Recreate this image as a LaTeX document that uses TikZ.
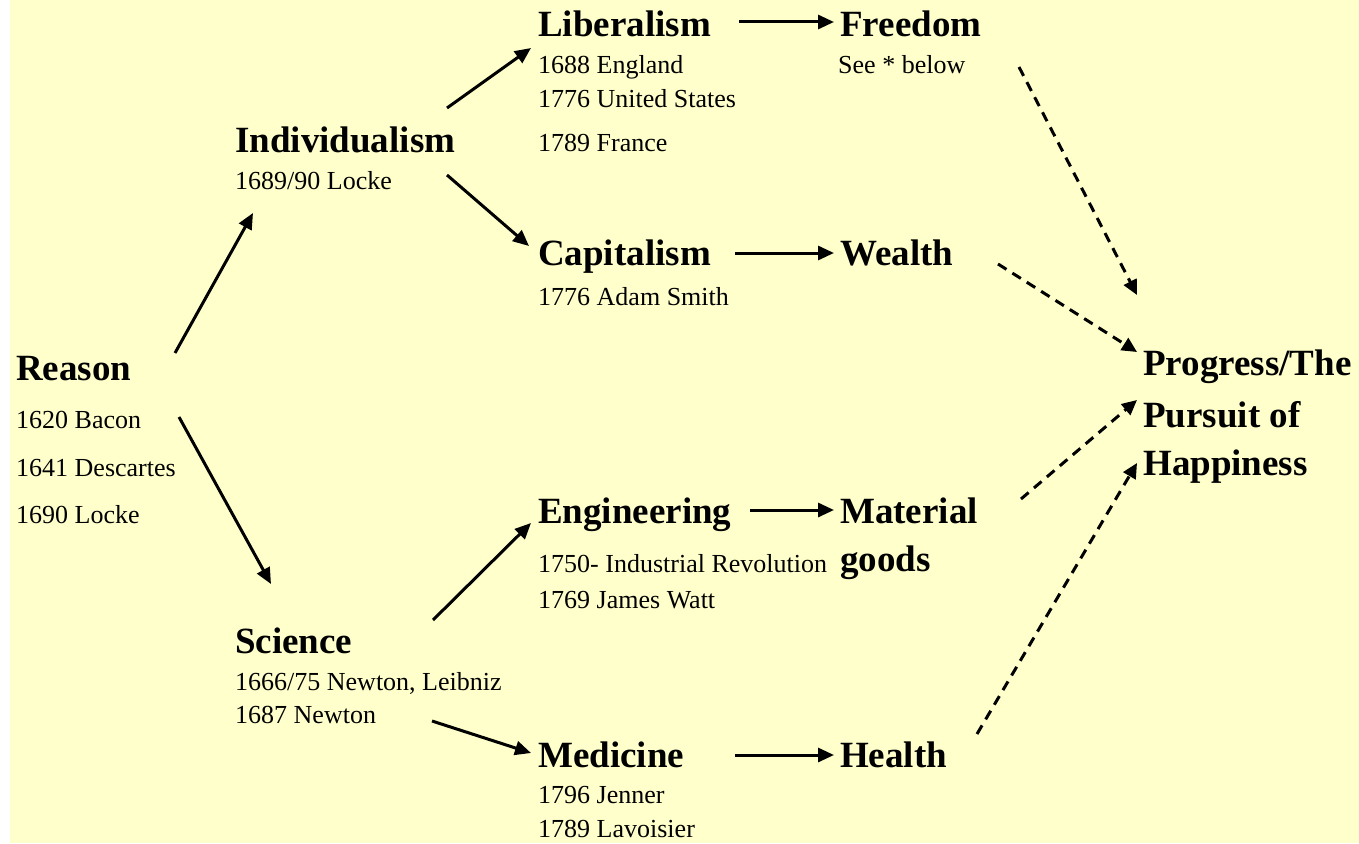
\documentclass[tikz,border=0pt]{standalone}
\usepackage{fontspec}
\setmainfont{Liberation Serif}
\usetikzlibrary{arrows.meta}
\definecolor{bg}{HTML}{FFFFCC}
\begin{document}
\begin{tikzpicture}[x=1pt,y=-1pt,
  head/.style={anchor=base west,inner sep=0pt,font=\fontsize{37}{44}\selectfont\bfseries},
  sub/.style={anchor=base west,inner sep=0pt,font=\fontsize{26}{30}\selectfont},
  link/.style={line width=3pt,-{Triangle[length=16pt,width=14pt]}},
  dlink/.style={line width=3pt,dash pattern=on 10pt off 7pt,-{Triangle[length=15pt,width=14pt]}}]
\useasboundingbox (0,0) rectangle (1359,843);
\fill[bg] (10,0) rectangle (1359,843);

% Reason
\node[head] (reason) at (16,380) {Reason};
\node[sub] (reason1) at (16,428) {1620 Bacon};
\node[sub] (reason2) at (16,476) {1641 Descartes};
\node[sub] (reason3) at (16,523) {1690 Locke};

% Individualism
\node[head] (indiv) at (235,152) {Individualism};
\node[sub] (indiv1) at (235,189) {1689/90 Locke};

% Science
\node[head] (science) at (235,653) {Science};
\node[sub] (science1) at (235,690) {1666/75 Newton, Leibniz};
\node[sub] (science2) at (235,723) {1687 Newton};

% Liberalism
\node[head] (liberal) at (538,37) {Liberalism};
\node[sub] (liberal1) at (538,74) {1688 England};
\node[sub] (liberal2) at (538,107) {1776 United States};
\node[sub] (liberal3) at (538,151) {1789 France};

% Capitalism
\node[head] (capital) at (538,265) {Capitalism};
\node[sub] (capital1) at (538,305) {1776 Adam Smith};

% Engineering
\node[head] (engin) at (538,523) {Engineering};
\node[sub] (engin1) at (538,572) {1750- Industrial Revolution};
\node[sub] (engin2) at (538,608) {1769 James Watt};

% Medicine
\node[head] (medic) at (538,767) {Medicine};
\node[sub] (medic1) at (538,803) {1796 Jenner};
\node[sub] (medic2) at (538,837) {1789 Lavoisier};

% Outcomes
\node[head] (freedom) at (840,37) {Freedom};
\node[sub] (freedom1) at (838,74) {See * below};
\node[head] (wealth) at (840,265) {Wealth};
\node[head] (material) at (840,523) {Material};
\node[head] (goods) at (840,571) {goods};
\node[head] (health) at (840,767) {Health};

% Progress
\node[head] (prog1) at (1143,375) {Progress/The};
\node[head] (prog2) at (1143,427) {Pursuit of};
\node[head] (prog3) at (1143,475) {Happiness};

% connector end points
\coordinate (rsA) at (175,353); \coordinate (inA) at (253,213);
\coordinate (rsB) at (179,417); \coordinate (scA) at (271,584);
\coordinate (inB) at (447,108); \coordinate (lbA) at (531,48);
\coordinate (inC) at (447,175); \coordinate (cpA) at (529,246);
\coordinate (scB) at (433,620); \coordinate (enA) at (531,523);
\coordinate (scC) at (432,721); \coordinate (mdA) at (531,753);
\coordinate (lbB) at (739,22); \coordinate (frA) at (834,22);
\coordinate (cpB) at (735,253); \coordinate (wlA) at (834,253);
\coordinate (enB) at (750,510); \coordinate (mtA) at (834,510);
\coordinate (mdB) at (735,755); \coordinate (hlA) at (834,755);
\coordinate (frB) at (1019,67); \coordinate (pgA) at (1137,295);
\coordinate (wlB) at (998,264); \coordinate (pgB) at (1137,352);
\coordinate (mtB) at (1021,499); \coordinate (pgC) at (1137,400);
\coordinate (hlB) at (977,734); \coordinate (pgD) at (1137,463);

% solid connectors
\draw[link] (rsA) -- (inA);
\draw[link] (rsB) -- (scA);
\draw[link] (inB) -- (lbA);
\draw[link] (inC) -- (cpA);
\draw[link] (scB) -- (enA);
\draw[link] (scC) -- (mdA);
\draw[link] (lbB) -- (frA);
\draw[link] (cpB) -- (wlA);
\draw[link] (enB) -- (mtA);
\draw[link] (mdB) -- (hlA);

% dashed connectors
\draw[dlink] (frB) -- (pgA);
\draw[dlink] (wlB) -- (pgB);
\draw[dlink] (mtB) -- (pgC);
\draw[dlink] (hlB) -- (pgD);
\end{tikzpicture}
\end{document}
